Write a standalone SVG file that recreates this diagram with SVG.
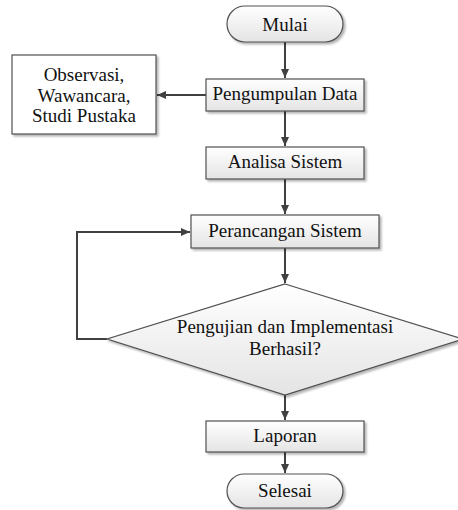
<svg xmlns="http://www.w3.org/2000/svg" width="458" height="510" viewBox="0 0 458 510">
<defs>
<linearGradient id="g" x1="0" y1="0" x2="0" y2="1">
<stop offset="0" stop-color="#ffffff"/>
<stop offset="1" stop-color="#e4e4e4"/>
</linearGradient>
<filter id="sh" x="-10%" y="-10%" width="130%" height="140%">
<feGaussianBlur in="SourceAlpha" stdDeviation="1"/>
<feOffset dx="2" dy="2" result="b"/>
<feComponentTransfer><feFuncA type="linear" slope="0.3"/></feComponentTransfer>
<feMerge><feMergeNode/><feMergeNode in="SourceGraphic"/></feMerge>
</filter>
<marker id="ah" markerWidth="10" markerHeight="10" refX="9" refY="5" orient="auto" markerUnits="userSpaceOnUse">
<path d="M0,1 L9,5 L0,9 Z" fill="#404040"/>
</marker>
</defs>
<style>
.s{fill:url(#g);stroke:#505050;stroke-width:1.2;filter:url(#sh)}
.w{fill:#fff;stroke:#505050;stroke-width:1.2;filter:url(#sh)}
text{font-family:'Liberation Serif','Times New Roman',serif;font-size:19px;fill:#111;text-anchor:middle}
.c{fill:none;stroke:#404040;stroke-width:2;marker-end:url(#ah)}
</style>
<g id="connectors">
<path class="c" d="M285,42 V78"/>
<path class="c" d="M206,95 H157"/>
<path class="c" d="M285,111 V146"/>
<path class="c" d="M285,179 V214"/>
<path class="c" d="M285,248 V283"/>
<path class="c" d="M107,339 H77 V232 H190"/>
<path class="c" d="M285,395 V420"/>
<path class="c" d="M285,452 V473"/>
</g>
<g id="mulai">
<rect class="s" x="227" y="6" width="116" height="36" rx="18"/>
<text x="285" y="30.5">Mulai</text>
</g>
<g id="pengumpulan">
<rect class="s" x="206" y="79" width="158" height="32"/>
<text x="285" y="100">Pengumpulan Data</text>
</g>
<g id="observasi">
<rect class="w" x="12" y="55" width="144" height="79"/>
<text x="84" y="81">Observasi,</text>
<text x="84" y="101.5">Wawancara,</text>
<text x="84" y="122">Studi Pustaka</text>
</g>
<g id="analisa">
<rect class="s" x="206" y="147" width="158" height="32"/>
<text x="285" y="168">Analisa Sistem</text>
</g>
<g id="perancangan">
<rect class="s" x="191" y="215" width="188" height="33"/>
<text x="285" y="236.5">Perancangan Sistem</text>
</g>
<g id="pengujian">
<polygon class="s" points="285,284 463,339 285,395 107,339"/>
<text x="285" y="333">Pengujian dan Implementasi</text>
<text x="285" y="355">Berhasil?</text>
</g>
<g id="laporan">
<rect class="s" x="206" y="421" width="158" height="31"/>
<text x="285" y="441.5">Laporan</text>
</g>
<g id="selesai">
<rect class="s" x="227" y="474" width="116" height="34" rx="17"/>
<text x="285" y="497">Selesai</text>
</g>
</svg>
